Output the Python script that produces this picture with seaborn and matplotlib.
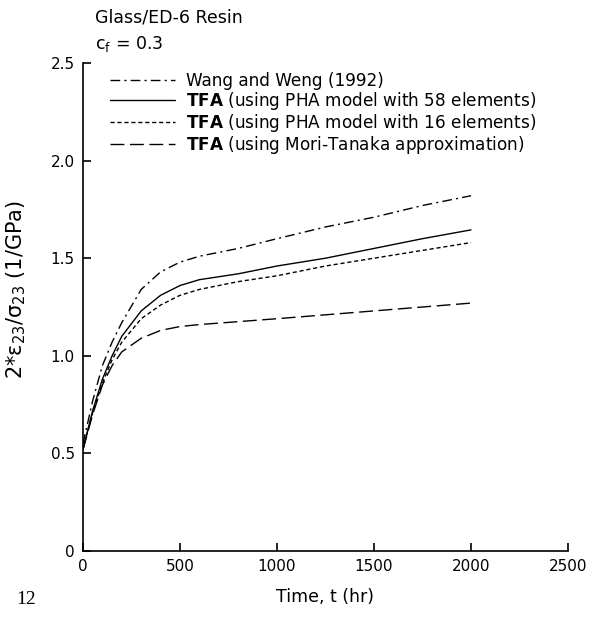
import matplotlib
matplotlib.use("Agg")
import matplotlib.pyplot as plt
import seaborn as sns
import numpy as np

# ---- data ----
t = [0, 25, 50, 100, 150, 200, 300, 400, 500, 600, 800, 1000, 1250, 1500, 1750, 2000]
wang = [0.55, 0.66, 0.77, 0.95, 1.07, 1.17, 1.34, 1.43, 1.48, 1.51, 1.55, 1.60, 1.66, 1.71, 1.77, 1.82]
pha58 = [0.52, 0.62, 0.72, 0.88, 1.00, 1.10, 1.23, 1.31, 1.36, 1.39, 1.42, 1.46, 1.50, 1.55, 1.60, 1.645]
pha16 = [0.52, 0.62, 0.71, 0.86, 0.98, 1.07, 1.19, 1.26, 1.31, 1.34, 1.38, 1.41, 1.46, 1.50, 1.54, 1.58]
mori = [0.52, 0.61, 0.70, 0.85, 0.95, 1.02, 1.09, 1.13, 1.15, 1.16, 1.175, 1.19, 1.21, 1.23, 1.25, 1.27]

labels = [
    "Wang and Weng (1992)",
    r"$\mathbf{TFA}$ (using PHA model with 58 elements)",
    r"$\mathbf{TFA}$ (using PHA model with 16 elements)",
    r"$\mathbf{TFA}$ (using Mori-Tanaka approximation)",
]
x_ticks = [0, 500, 1000, 1500, 2000, 2500]
x_ticklabels = ["0", "500", "1000", "1500", "2000", "2500"]
y_ticks = [0, 0.5, 1.0, 1.5, 2.0, 2.5]
y_ticklabels = ["0", "0.5", "1.0", "1.5", "2.0", "2.5"]

sns.set_style("white")
plt.rcParams["font.family"] = ["DejaVu Sans"]
plt.rcParams["mathtext.fontset"] = "dejavusans"
for k in ["text.color", "axes.labelcolor", "xtick.color", "ytick.color", "axes.edgecolor"]:
    plt.rcParams[k] = "black"

fig = plt.figure(figsize=(5.94, 6.2), dpi=100)
ax = fig.add_axes([83 / 594, 1 - 551 / 620, 485 / 594, 488 / 620])

styles = [(0, (7, 3, 1.5, 3)), "-", (0, (3, 2)), (0, (10, 4))]
series = [wang, pha58, pha16, mori]
for vals, ls, lab in zip(series, styles, labels):
    sns.lineplot(x=t, y=vals, ax=ax, color="black", linestyle=ls, linewidth=1.0, label=lab)

ax.set_xlim(0, 2500)
ax.set_ylim(0, 2.5)
ax.set_xticks(x_ticks)
ax.set_xticklabels(x_ticklabels)
ax.set_yticks(y_ticks)
ax.set_yticklabels(y_ticklabels)
ax.tick_params(direction="in", length=6, width=1.2, labelsize=11, pad=6,
               bottom=True, left=True, top=False, right=False)
for s in ["top", "right"]:
    ax.spines[s].set_visible(False)
for s in ["left", "bottom"]:
    ax.spines[s].set_linewidth(1.2)

ax.set_xlabel("Time, t (hr)", fontsize=12.5, labelpad=10)
ax.set_ylabel("2*ε$_{23}$/σ$_{23}$ (1/GPa)", fontsize=15)
ax.yaxis.set_label_coords(-0.113, 0.535)

leg = ax.legend(loc="upper left", bbox_to_anchor=(0.056, 0.982), frameon=False,
                fontsize=12.2, handlelength=3.8, handletextpad=0.7, labelspacing=0.0,
                borderaxespad=0, borderpad=0)

fig.text(95 / 594, 1 - 18 / 620, "Glass/ED-6 Resin", fontsize=12.5, va="center", ha="left")
fig.text(95 / 594, 1 - 44 / 620, r"c$_\mathrm{f}$ = 0.3", fontsize=12.5, va="center", ha="left")
fig.text(16 / 594, 1 - 600 / 620, "12", fontsize=14, va="center", ha="left", family="Liberation Serif")

fig.savefig("out.png", dpi=100)
